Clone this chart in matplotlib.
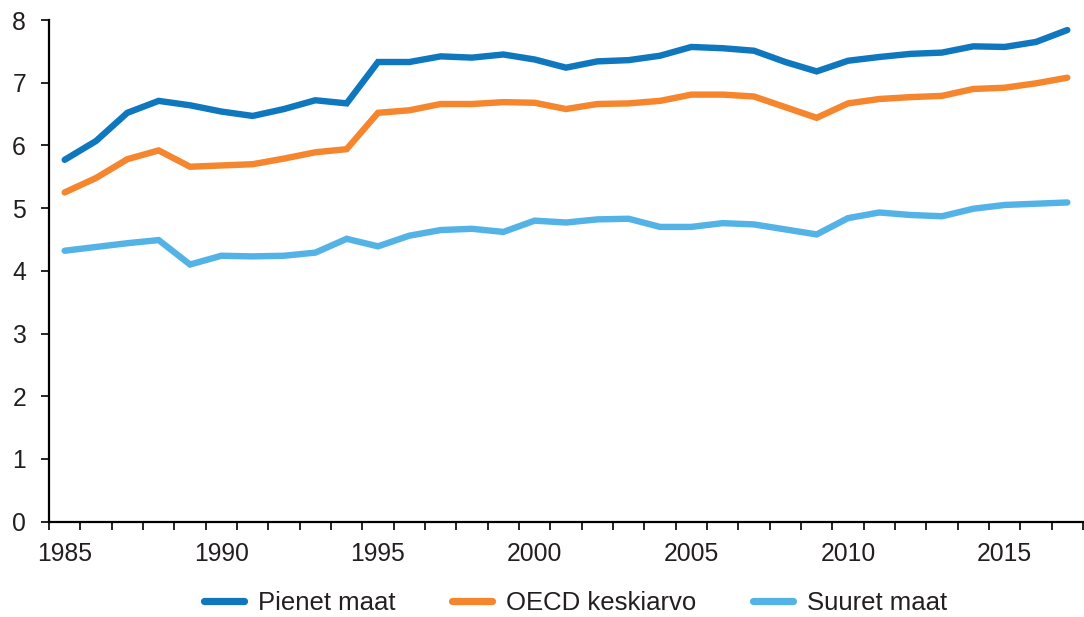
import matplotlib
matplotlib.use("Agg")
import matplotlib.pyplot as plt
import numpy as np

plt.rcParams['font.family'] = ['Liberation Sans', 'DejaVu Sans']

years = list(range(1985, 2018))
pienet = [5.77, 6.07, 6.52, 6.71, 6.64, 6.54, 6.47, 6.58, 6.72, 6.67,
          7.33, 7.33, 7.42, 7.40, 7.45, 7.37, 7.24, 7.34, 7.36, 7.43, 7.57,
          7.55, 7.51, 7.33, 7.18, 7.35, 7.41, 7.46, 7.48, 7.58, 7.57, 7.65, 7.84]
oecd = [5.25, 5.48, 5.78, 5.92, 5.66, 5.68, 5.70, 5.79, 5.89, 5.94,
        6.52, 6.56, 6.66, 6.66, 6.69, 6.68, 6.58, 6.66, 6.67, 6.71, 6.81,
        6.81, 6.78, 6.61, 6.44, 6.67, 6.74, 6.77, 6.79, 6.90, 6.92, 6.99, 7.08]
suuret = [4.32, 4.38, 4.44, 4.49, 4.10, 4.24, 4.23, 4.24, 4.29, 4.51,
          4.39, 4.56, 4.65, 4.67, 4.62, 4.80, 4.77, 4.82, 4.83, 4.70, 4.70,
          4.76, 4.74, 4.66, 4.58, 4.84, 4.93, 4.89, 4.87, 4.99, 5.05, 5.07, 5.09]
series_names = ["Pienet maat", "OECD keskiarvo", "Suuret maat"]
colors = ["#0F77BE", "#F5862E", "#54B3E6"]
label_years = [1985, 1990, 1995, 2000, 2005, 2010, 2015]
yticks = [0, 1, 2, 3, 4, 5, 6, 7, 8]

text_color = "#231F20"
fs = 17.8
fs_leg = 18.5

fig = plt.figure(figsize=(10.84, 6.17), dpi=100)
ax = fig.add_axes([49 / 1084, 1 - 521.6 / 617, (1083 - 49) / 1084, (521.6 - 20) / 617])

for vals, name, c in zip([pienet, oecd, suuret], series_names, colors):
    ax.plot(years, vals, color=c, lw=4.6, solid_capstyle='round',
            solid_joinstyle='miter', label=name, clip_on=False)

ax.set_xlim(years[0] - 0.5, years[-1] + 0.5)
ax.set_ylim(0, 8)

for s in ['top', 'right']:
    ax.spines[s].set_visible(False)
for s in ['left', 'bottom']:
    ax.spines[s].set_linewidth(1.6)
    ax.spines[s].set_color('black')

ax.set_yticks(yticks)
ax.set_yticklabels([str(v) for v in yticks])
ax.tick_params(axis='y', direction='out', length=6, width=1.2, pad=10.5,
               labelsize=fs, labelcolor=text_color)

ax.set_xticks([y - 0.5 for y in years] + [years[-1] + 0.5])
ax.set_xticklabels([])
ax.tick_params(axis='x', which='major', direction='out', length=6, width=1.2)
ax.set_xticks(label_years, minor=True)
ax.set_xticklabels([str(y) for y in label_years], minor=True)
ax.tick_params(axis='x', which='minor', length=0, pad=15,
               labelsize=fs, labelcolor=text_color)

leg = fig.legend(loc='center', bbox_to_anchor=(575.5 / 1084, 1 - 603 / 617),
                 ncol=3, frameon=False, fontsize=fs_leg, handlelength=1.56,
                 handletextpad=0.54, columnspacing=2.2, borderpad=0)
for t in leg.get_texts():
    t.set_color(text_color)
for h in leg.get_lines():
    h.set_linewidth(5.2)
    h.set_solid_capstyle('round')

fig.savefig("out.png", dpi=100)
